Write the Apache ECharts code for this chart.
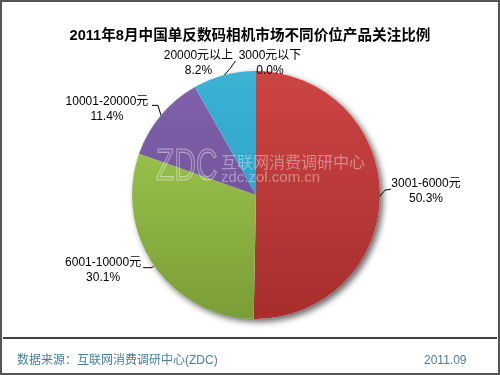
<!DOCTYPE html>
<html><head><meta charset="utf-8">
<script src="https://cdn.jsdelivr.net/npm/echarts@6/dist/echarts.min.js"></script>
<style>html,body{margin:0;padding:0;background:#fff}#c{width:500px;height:375px}</style>
</head><body><div id="c"></div>
<script>
const titleText = '2011年8月中国单反数码相机市场不同价位产品关注比例';
const categories = ['3001-6000元', '6001-10000元', '10001-20000元', '20000元以上', '3000元以下'];
const shares = [50.3, 30.1, 11.4, 8.2, 0.0];
const sourceText = '数据来源：互联网消费调研中心(ZDC)';
const dateText = '2011.09';

const palette = [
  ['#cc4544', '#a62e2d'],
  ['#97bf4a', '#7b9d36'],
  ['#8061aa', '#72569c'],
  ['#3cb2d5', '#2ea4c8'],
  ['#3cb2d5', '#2ea4c8']
];
const grad = (c) => new echarts.graphic.LinearGradient(0, 0, 0, 1, [{offset: 0, color: c[0]}, {offset: 1, color: c[1]}]);

const CX = 256, CY = 195, R = 124;
// label placement offsets relative to the slice's outer mid point: [elbow, end, labelCenter]
const labelOffsets = [
  [[5, -6], [11, -7], [46, -5]],
  [[-2, 2], [-11, 2], [-51, 5]],
  [[-3, -10], [-9, -10], [-54, -6]],
  [[6, -7], [11, -14], [-26, -12]],
  [null, null, [14, -8]]
];
function anchorOf(i) {
  const total = shares.reduce((a, b) => a + b, 0);
  let before = 0;
  for (let k = 0; k < i; k++) before += shares[k];
  const mid = (before + shares[i] / 2) / total * 2 * Math.PI;
  const ang = Math.PI / 2 - mid;
  return [CX + R * Math.cos(ang), CY - R * Math.sin(ang)];
}

const chart = echarts.init(document.getElementById('c'), null, {renderer: 'canvas'});
const CJK = 'Arial, "Liberation Sans", "Noto Sans CJK SC", sans-serif';
chart.setOption({
  backgroundColor: '#fff',
  animation: false,
  title: {
    text: titleText, left: 'center', top: 24,
    textStyle: {fontSize: 14.6, fontWeight: 'bold', color: '#000', fontFamily: CJK}
  },
  graphic: [
    {type: 'rect', shape: {x: 1, y: 1, width: 498, height: 373}, style: {fill: 'none', stroke: '#555', lineWidth: 2}, z: 100},
    {type: 'line', shape: {x1: 3, y1: 338, x2: 497, y2: 338}, style: {stroke: '#000', lineWidth: 1.5}, z: 100},
    {type: 'text', left: 17, top: 355, style: {text: sourceText, fill: '#4a7e9a', font: '12px ' + CJK}, z: 100},
    {type: 'text', left: 424, top: 355, style: {text: dateText, fill: '#4a7e9a', font: '12px ' + CJK}, z: 100},
    {type: 'text', x: 156, y: 146, scaleX: 0.68, style: {text: 'ZDC', fill: 'rgba(255,255,255,0.06)', stroke: 'rgba(255,255,255,0.42)', lineWidth: 1.2, font: '44px Arial, "Liberation Sans", sans-serif', verticalAlign: 'top'}, z: 100},
    {type: 'text', left: 221, top: 154, style: {text: '互联网消费调研中心', fill: 'rgba(255,255,255,0.38)', font: '16px "Noto Sans CJK SC", sans-serif'}, z: 100},
    {type: 'text', left: 221, top: 170, style: {text: 'zdc.zol.com.cn', fill: 'rgba(255,255,255,0.38)', font: '15px Arial, "Liberation Sans", sans-serif'}, z: 100}
  ],
  series: [
    {
      type: 'pie', silent: true, center: [CX, CY], radius: R, z: 1,
      label: {show: false}, labelLine: {show: false},
      itemStyle: {color: '#fff', shadowBlur: 6, shadowColor: 'rgba(0,0,0,0.6)', shadowOffsetX: 3, shadowOffsetY: 3},
      data: [{value: 1}]
    },
    {
      type: 'pie', center: [CX, CY], radius: R, z: 2,
      startAngle: 90, clockwise: true, avoidLabelOverlap: false,
      label: {
        show: true, position: 'outside', color: '#000', fontSize: 12, fontFamily: CJK, lineHeight: 15,
        formatter: (p) => '{a|' + p.name + '}\n{a|' + shares[p.dataIndex].toFixed(1) + '%}',
        rich: {a: {align: 'center', fontSize: 12, lineHeight: 15, color: '#000', fontFamily: CJK}}
      },
      labelLine: {show: true, length: 8, length2: 8, lineStyle: {color: '#000', width: 1}},
      labelLayout: (p) => {
        const i = p.dataIndex;
        const a = anchorOf(i);
        const o = labelOffsets[i];
        const res = {x: a[0] + o[2][0], y: a[1] + o[2][1], align: 'center', verticalAlign: 'middle'};
        if (o[0]) {
          res.labelLinePoints = [a, [a[0] + o[0][0], a[1] + o[0][1]], [a[0] + o[1][0], a[1] + o[1][1]]];
        } else {
          res.labelLinePoints = [a, a, a];
        }
        return res;
      },
      itemStyle: {borderWidth: 0},
      data: categories.map((n, i) => ({name: n, value: shares[i], itemStyle: {color: grad(palette[i])},
        labelLine: i === 4 ? {show: false} : undefined}))
    }
  ]
});
</script></body></html>
